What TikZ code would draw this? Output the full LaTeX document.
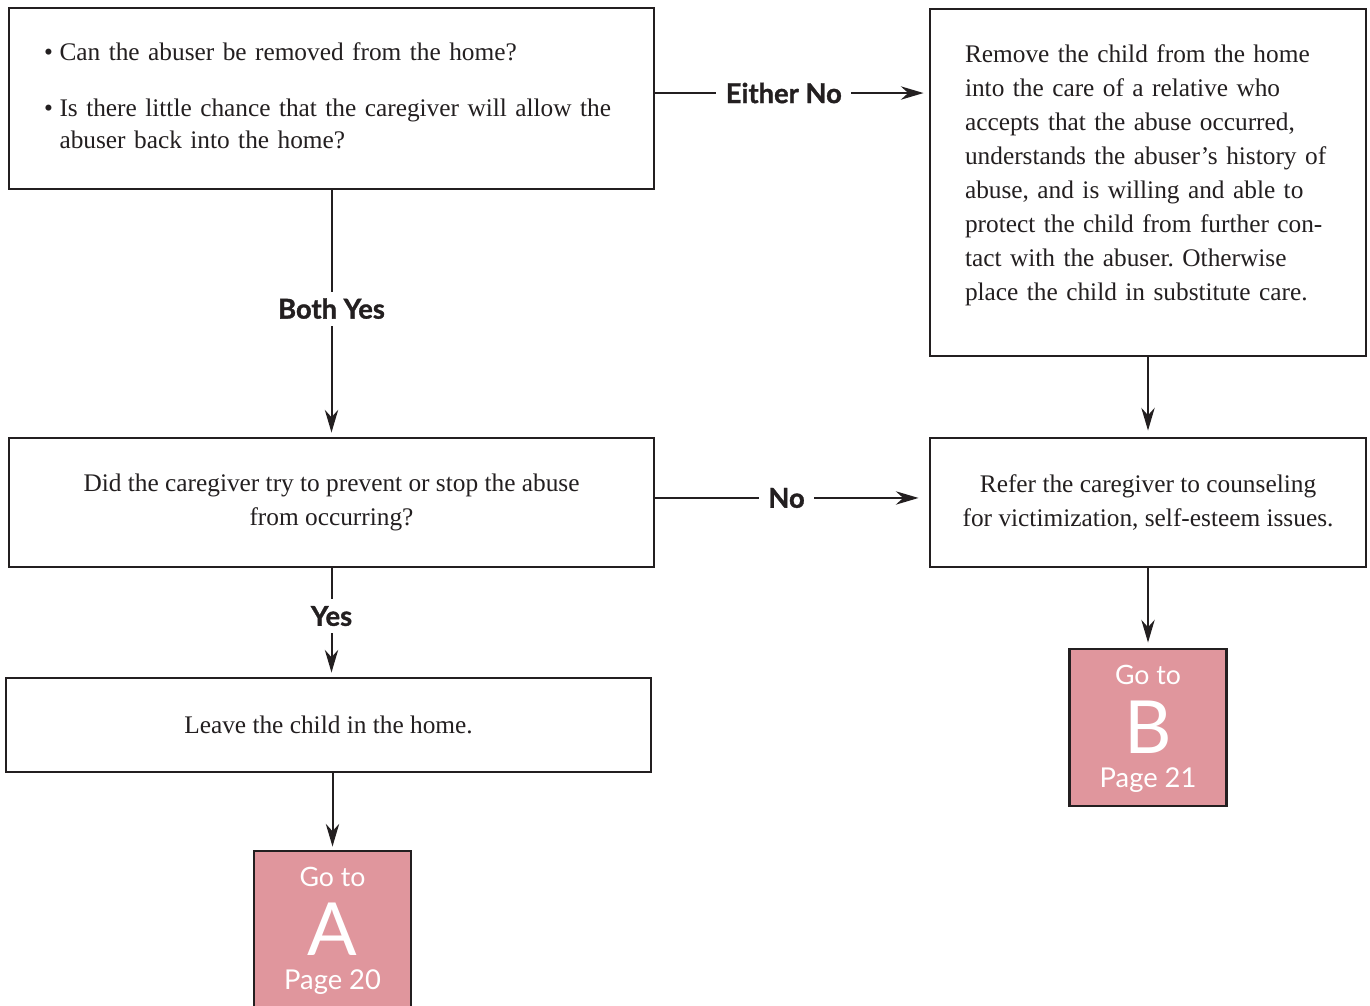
\documentclass[tikz,border=0pt]{standalone}
\usepackage{fontspec}
\setmainfont{Liberation Serif}
\newfontfamily\lblfont[BoldFeatures={FakeBold=1.2}]{Lato}
\usetikzlibrary{arrows.meta}
\definecolor{ink}{HTML}{231F20}
\definecolor{rose}{HTML}{E0969D}
\frenchspacing
\begin{document}
\begin{tikzpicture}[x=0.75pt,y=-0.75pt,
  box/.style={draw=ink, line width=2.2pt, text=ink, inner sep=0pt,
    font=\fontsize{19}{25.5}\selectfont},
  conn/.style={draw=ink, line width=1.5pt,
    -{Stealth[length=17pt,width=10pt,inset=5.5pt]}},
  lbl/.style={fill=white, text=ink, inner xsep=7pt, inner ysep=5pt,
    font=\lblfont\bfseries\fontsize{20.5}{22}\selectfont},
  gobox/.style={draw=ink, fill=rose, line width=2.2pt,
    minimum width=117.75pt, minimum height=117.75pt},
  gotext/.style={text=white, anchor=base, inner sep=0pt}]
\clip (0,0) rectangle (1370,1006);
\fill[white] (0,0) rectangle (1370,1006);

% question: can the abuser be removed?
\node[box, minimum width=483.75pt, minimum height=135.75pt,
  text width=431.25pt, inner xsep=26.25pt, align=left] (q1) at (331.5,98.5)
  {\fontsize{19}{24}\selectfont
   \begin{tabular}{@{}l@{\hspace{5pt}}l@{}}
   \textbullet & Can the abuser be removed from the home?\\[18pt]
   \textbullet & Is there little chance that the caregiver will allow the\\
               & abuser back into the home?
   \end{tabular}};

% action: remove the child
\node[box, minimum width=327pt, minimum height=260.25pt,
  text width=274.5pt, inner xsep=26.25pt, align=left] (rem) at (1148,182.5)
  {\raisebox{6pt}[\height][\depth]{\begin{tabular}{@{}l@{}}
   Remove the child from the home\\
   into the care of a relative who\\
   accepts that the abuse occurred,\\
   understands the abuser’s history of\\
   abuse, and is willing and able to\\
   protect the child from further con-\\
   tact with the abuser. Otherwise\\
   place the child in substitute care.
   \end{tabular}}};

% question: did the caregiver try to stop it?
\node[box, minimum width=483.75pt, minimum height=96.75pt, align=center]
  (q2) at (331.5,502.5)
  {Did the caregiver try to prevent or stop the abuse\\from occurring?};

% action: counseling
\node[box, minimum width=327pt, minimum height=96.75pt, align=center]
  (couns) at (1148,502.5)
  {Refer the caregiver to counseling\\for victimization, self-esteem issues.};

% action: leave the child
\node[box, minimum width=483.75pt, minimum height=70.5pt, align=center]
  (leave) at (328.5,725) {Leave the child in the home.};

% page references
\node[gobox] (goA) at (332.5,929.5) {};
\node[gobox] (goB) at (1148,727.5) {};
\node[gotext, font=\lblfont\fontsize{20}{22}\selectfont] (goAt) at (332.5,886) {Go to};
\node[gotext, font=\lblfont\fontsize{55}{60}\selectfont] (goAl) at (332.5,955) {A};
\node[gotext, font=\lblfont\fontsize{20.5}{22}\selectfont] (goAp) at (332.5,989) {Page 20};
\node[gotext, font=\lblfont\fontsize{20}{22}\selectfont] (goBt) at (1148,684) {Go to};
\node[gotext, font=\lblfont\fontsize{55}{60}\selectfont] (goBl) at (1148,753) {B};
\node[gotext, font=\lblfont\fontsize{20.5}{22}\selectfont] (goBp) at (1148,787) {Page 21};

% connectors
\draw[conn, shorten >=3pt] (q1.south) -- node[lbl, pos=0.48] {Both Yes} (q2.north);
\draw[conn, shorten >=3.75pt] ([yshift=4.1pt]q1.east) --
  node[lbl, pos=0.47] {Either No} ([yshift=4.1pt]q1.east -| rem.west);
\draw[conn, shorten >=4.5pt] (rem.south) -- (couns.north);
\draw[conn, shorten >=7.5pt] ([yshift=3.4pt]q2.east) --
  node[lbl, pos=0.48] {No} ([yshift=3.4pt]q2.east -| couns.west);
\draw[conn, shorten >=3pt] (q2.south) -- node[lbl, pos=0.44] {Yes} (q2.south |- leave.north);
\draw[conn, shorten >=2.25pt] (leave.south -| goA.north) -- (goA.north);
\draw[conn, shorten >=3.75pt] (couns.south) -- (goB.north);
\end{tikzpicture}
\end{document}
